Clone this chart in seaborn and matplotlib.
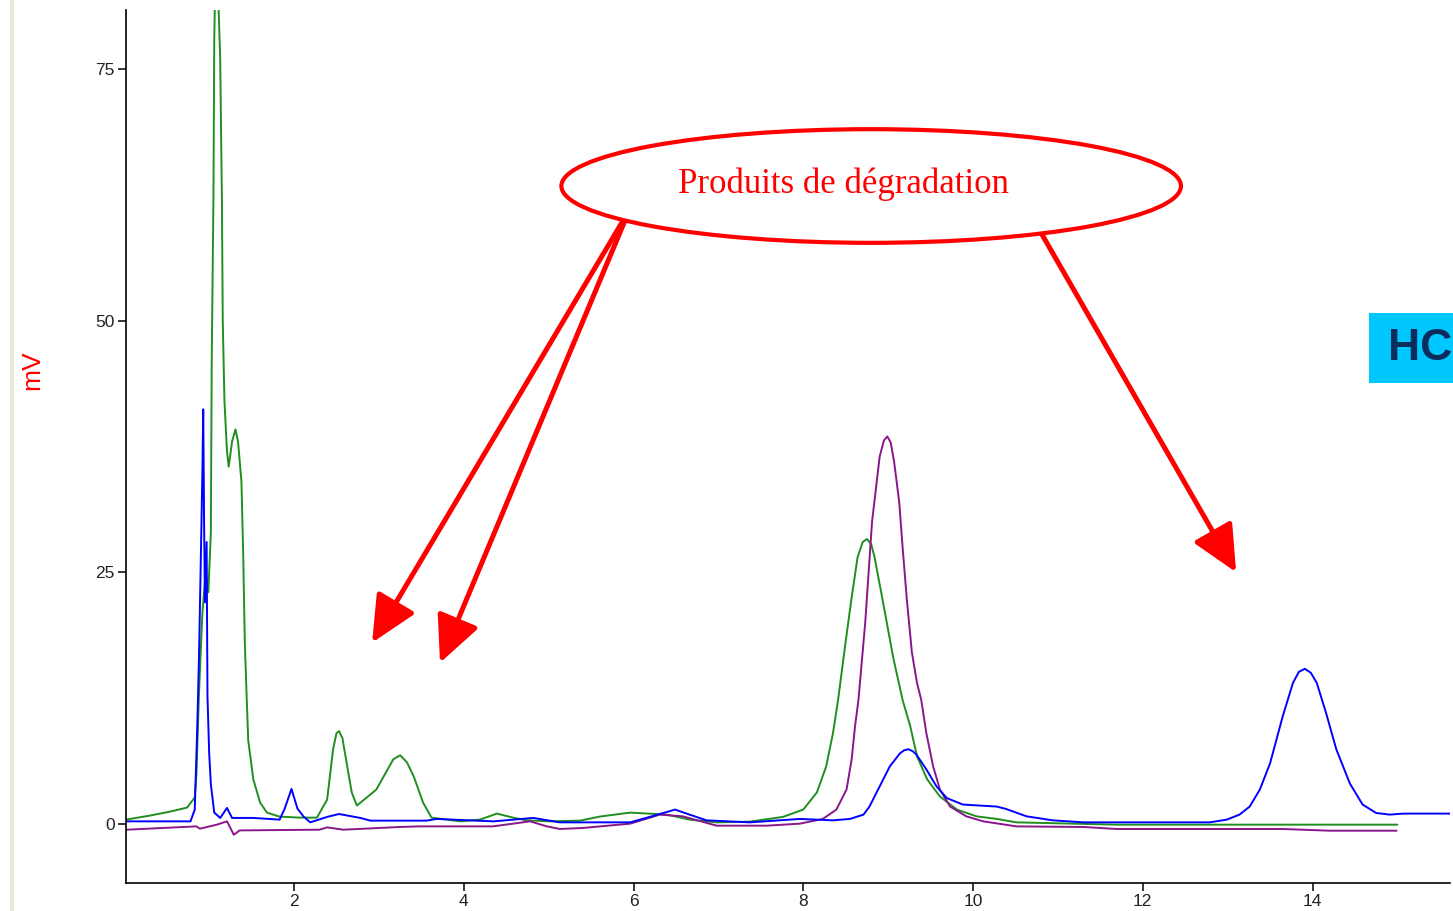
import numpy as np
import pandas as pd
import matplotlib
matplotlib.use("Agg")
import matplotlib.pyplot as plt
from matplotlib.patches import Ellipse, Rectangle
from matplotlib.lines import Line2D
import seaborn as sns

# ---------------- data ----------------
green_t = [0.02, 0.30, 0.54, 0.74, 0.83, 0.85, 0.88, 0.92, 0.96, 0.99,
           1.02, 1.03, 1.05, 1.06, 1.08, 1.10, 1.13, 1.15, 1.16, 1.18,
           1.21, 1.23, 1.27, 1.31, 1.34, 1.38, 1.40, 1.42, 1.44, 1.46,
           1.52, 1.60, 1.68, 1.83, 2.07, 2.27, 2.39, 2.46, 2.50, 2.53,
           2.57, 2.60, 2.68, 2.74, 2.90, 2.97, 3.09, 3.17, 3.25, 3.33,
           3.41, 3.52, 3.62, 3.96, 4.19, 4.39, 4.58, 4.74, 5.02, 5.37,
           5.60, 5.96, 6.39, 6.66, 6.98, 7.37, 7.76, 8.00, 8.16, 8.27,
           8.35, 8.41, 8.49, 8.57, 8.64, 8.70, 8.75, 8.80, 8.84, 8.94,
           9.06, 9.17, 9.26, 9.34, 9.46, 9.61, 9.81, 10.04, 10.28, 10.51,
           11.69, 15.0]
green_mv = [0.4, 0.8, 1.2, 1.6, 2.6, 5, 13, 21, 25, 23,
            29, 46, 62, 78, 88, 84, 76, 62, 50, 42,
            37, 35.5, 38, 39.2, 38, 34, 27.2, 18, 13, 8.3,
            4.4, 2.1, 1.1, 0.7, 0.6, 0.6, 2.4, 7.4, 9.0, 9.2,
            8.5, 7, 3.1, 1.8, 2.9, 3.4, 5.2, 6.4, 6.8, 6.1,
            4.7, 2.1, 0.6, 0.23, 0.4, 1.0, 0.6, 0.33, 0.23, 0.3,
            0.7, 1.1, 0.9, 0.4, 0.13, 0.2, 0.67, 1.4, 3.1, 5.7,
            9.0, 12.3, 17.5, 22.5, 26.5, 28.0, 28.3, 27.8, 26.5, 22,
            16.5, 12.3, 9.7, 6.7, 4.4, 2.7, 1.4, 0.73, 0.47, 0.13,
            -0.1, -0.1]

blue_t = [0.03, 0.78, 0.83, 0.86, 0.88, 0.90, 0.92, 0.93, 0.94, 0.95,
          0.97, 0.98, 1.00, 1.02, 1.06, 1.13, 1.21, 1.27, 1.52, 1.83,
          1.89, 1.97, 2.04, 2.11, 2.19, 2.39, 2.53, 2.78, 2.90, 3.56,
          3.68, 4.35, 4.82, 5.13, 5.96, 6.19, 6.49, 6.66, 6.86, 7.37,
          7.96, 8.35, 8.55, 8.71, 8.78, 8.90, 9.02, 9.14, 9.19, 9.24,
          9.29, 9.33, 9.45, 9.57, 9.69, 9.88, 10.28, 10.39, 10.63, 10.94,
          11.30, 12.79, 12.99, 13.14, 13.26, 13.38, 13.50, 13.65, 13.77, 13.84,
          13.91, 13.98, 14.05, 14.16, 14.28, 14.44, 14.59, 14.75, 14.91, 15.07,
          15.62]
blue_mv = [0.23, 0.23, 1.4, 9.7, 16.6, 25.6, 34.9, 41.2, 30, 22,
           28, 12.7, 7, 3.9, 1.1, 0.57, 1.56, 0.57, 0.57, 0.4,
           1.5, 3.45, 1.5, 0.73, 0.13, 0.67, 0.96, 0.57, 0.3, 0.3,
           0.47, 0.23, 0.57, 0.13, 0.13, 0.67, 1.4, 0.9, 0.33, 0.13,
           0.47, 0.33, 0.47, 0.9, 1.7, 3.7, 5.7, 7.0, 7.3, 7.4,
           7.2, 6.9, 5.4, 3.7, 2.55, 1.9, 1.7, 1.46, 0.73, 0.33,
           0.13, 0.13, 0.4, 0.9, 1.7, 3.4, 6.0, 10.7, 14.0, 15.1,
           15.4, 15.0, 14.0, 11.0, 7.4, 4.0, 1.9, 1.06, 0.9, 1.0,
           1.0]

purple_t = [0.03, 0.85, 0.89, 1.09, 1.21, 1.29, 1.36, 2.30, 2.39, 2.58,
            3.25, 3.48, 4.34, 4.58, 4.78, 4.98, 5.13, 5.40, 5.96, 6.31,
            6.58, 6.98, 7.57, 7.96, 8.23, 8.39, 8.51, 8.57, 8.61, 8.65,
            8.73, 8.81, 8.90, 8.95, 8.99, 9.03, 9.07, 9.13, 9.17, 9.22,
            9.28, 9.34, 9.39, 9.45, 9.53, 9.61, 9.73, 9.92, 10.12, 10.51,
            11.30, 11.69, 13.65, 14.20, 14.99]
purple_mv = [-0.6, -0.27, -0.5, -0.1, 0.23, -1.1, -0.67, -0.6, -0.37, -0.6,
             -0.33, -0.27, -0.27, 0, 0.23, -0.27, -0.53, -0.43, 0, 0.9,
             0.73, -0.2, -0.2, 0, 0.47, 1.4, 3.4, 6.4, 9.7, 12.3,
             20, 30, 36.5, 38.1, 38.5, 37.9, 36, 32, 27.5, 22.3,
             17, 14, 12.3, 9, 5.7, 3.4, 1.7, 0.73, 0.23, -0.27,
             -0.33, -0.53, -0.53, -0.7, -0.7]

x_ticks = [2, 4, 6, 8, 10, 12, 14]
y_ticks = [0, 25, 50, 75]
annotation_text = "Produits de dégradation"
badge_text = "HC"
y_label = "mV"

# ---------------- styling ----------------
sns.set_style("ticks")
plt.rcParams['font.family'] = ['Liberation Sans', 'DejaVu Sans']

fig = plt.figure(figsize=(14.53, 9.11), dpi=100)
ax = fig.add_axes([126 / 1453, 1 - 883 / 911, (1450 - 126) / 1453, (883 - 10) / 911])

series = [
    (green_t, green_mv, "#1f8f1f"),
    (purple_t, purple_mv, "#8b168b"),
    (blue_t, blue_mv, "#0000ff"),
]
for t, mv, col in series:
    df = pd.DataFrame({"t": t, "mv": mv})
    sns.lineplot(data=df, x="t", y="mv", color=col, lw=1.4, ax=ax,
                 estimator=None, sort=False)

ax.set_xlim(0.02, 15.62)
ax.set_ylim(-5.9, 80.9)
ax.set_xticks(x_ticks)
ax.set_yticks(y_ticks)
ax.set_xlabel("")
ax.set_ylabel("")
for s in ["top", "right"]:
    ax.spines[s].set_visible(False)
for s in ["left", "bottom"]:
    ax.spines[s].set_color("black")
    ax.spines[s].set_linewidth(1.2)
ax.tick_params(axis="both", direction="out", length=6, width=1.1,
               labelsize=12.5, colors="black", labelcolor="#222222", pad=2)

# y axis label
fig.text(32 / 1453, 1 - 370 / 911, y_label, color="red", rotation=90,
         fontsize=19, ha="center", va="center")

# faint left border line
fig.add_artist(Line2D([12 / 1453, 12 / 1453], [0, 1], color="#ece9d8", lw=3,
                      transform=fig.transFigure))

# arrows
arrow_kw = dict(arrowstyle="-|>,head_length=0.95,head_width=0.45",
                color="#ff0000", lw=3.6, mutation_scale=30,
                shrinkA=0, shrinkB=0)
ax.annotate("", xy=(2.92, 18.0), xytext=(5.95, 61.0), arrowprops=arrow_kw,
            zorder=4, annotation_clip=False)
ax.annotate("", xy=(3.72, 16.0), xytext=(5.95, 61.0), arrowprops=arrow_kw,
            zorder=4, annotation_clip=False)
ax.annotate("", xy=(13.10, 25.0), xytext=(10.75, 59.5), arrowprops=arrow_kw,
            zorder=4, annotation_clip=False)

# ellipse with text
ell = Ellipse((8.80, 63.4), width=7.30, height=11.3, facecolor="white",
              edgecolor="#ff0000", lw=3, zorder=5)
ax.add_patch(ell)
ax.text(8.47, 63.6, annotation_text, color="#ff0000", fontsize=25,
        family=["Liberation Serif", "DejaVu Serif"], ha="center", va="center",
        zorder=6)

# HC badge
fig.add_artist(Rectangle((1369 / 1453, 1 - 383 / 911), (1453 - 1369) / 1453,
                         (383 - 313) / 911, transform=fig.transFigure,
                         facecolor="#00c8ff", edgecolor="none"))
fig.text(1388 / 1453, 1 - 349 / 911, badge_text, color="#0a2d5e",
         fontsize=32, fontweight="bold", ha="left", va="center")

fig.savefig("out.png", dpi=100, facecolor="white")
